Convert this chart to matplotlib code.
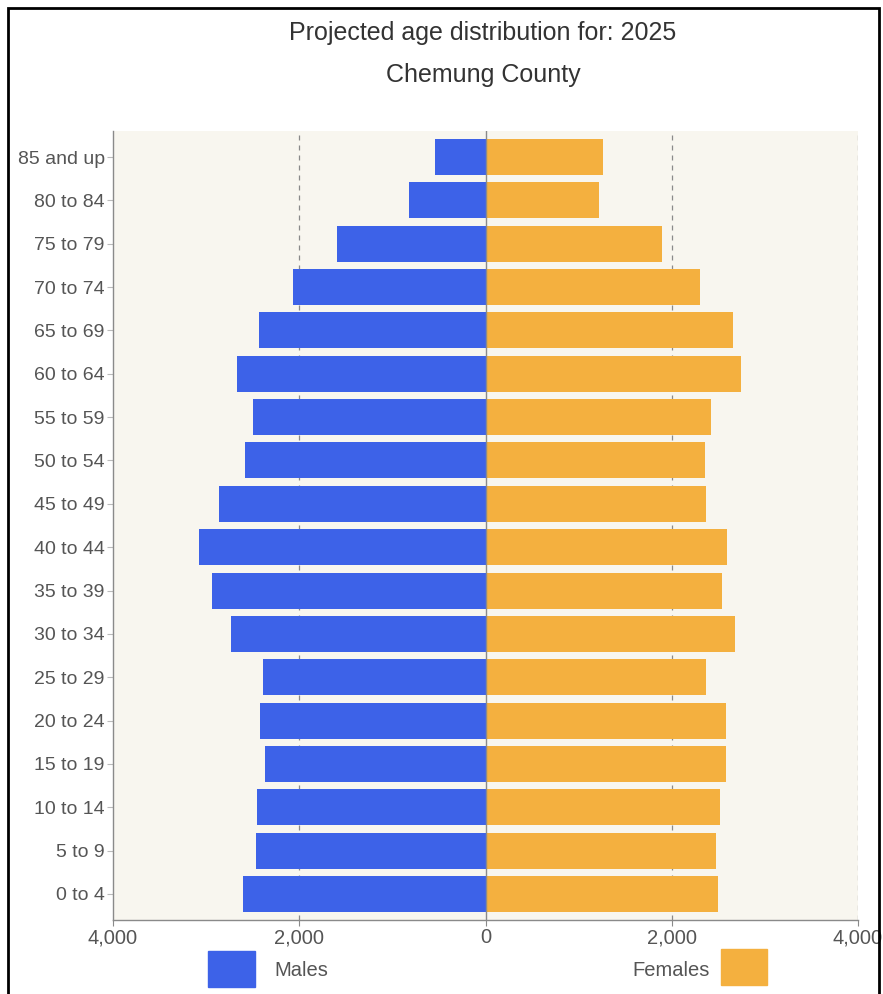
import numpy as np
import matplotlib.pyplot as plt
from matplotlib.patches import Rectangle
from matplotlib.ticker import FuncFormatter

age_groups = ["0 to 4", "5 to 9", "10 to 14", "15 to 19", "20 to 24", "25 to 29",
              "30 to 34", "35 to 39", "40 to 44", "45 to 49", "50 to 54", "55 to 59",
              "60 to 64", "65 to 69", "70 to 74", "75 to 79", "80 to 84", "85 and up"]
males = [2605, 2469, 2451, 2369, 2419, 2386, 2737, 2933, 3076, 2858,
         2583, 2494, 2665, 2430, 2072, 1590, 822, 547]
females = [2497, 2479, 2519, 2587, 2583, 2369, 2680, 2544, 2594, 2369,
           2355, 2426, 2740, 2658, 2304, 1894, 1215, 1257]
x_ticks = [-4000, -2000, 0, 2000, 4000]

BLUE = '#3d62e8'
ORANGE = '#f4b03f'
BG = '#f8f6ef'
GRAY = '#8a8a8a'
TEXT = '#555555'

plt.rcParams['font.family'] = ['Liberation Sans', 'DejaVu Sans']

W, H = 883, 994
fig = plt.figure(figsize=(W / 100, H / 100), dpi=100)
ax = fig.add_axes([113 / W, 1 - 920 / H, (858 - 113) / W, (920 - 131) / H])
ax.set_facecolor(BG)

y = np.arange(len(age_groups))
ax.barh(y, -np.array(males), height=0.83, color=BLUE, zorder=2)
ax.barh(y, females, height=0.83, color=ORANGE, zorder=2)

for xv in (-2000, 2000, 4000):
    ax.axvline(xv, color=GRAY, lw=0.9, ls=(0, (4, 4)), zorder=1)
ax.axvline(0, color=GRAY, lw=1.0, zorder=3)

ax.set_xlim(-4000, 4000)
ax.set_ylim(-0.6, 17.6)
ax.set_xticks(x_ticks)
ax.xaxis.set_major_formatter(FuncFormatter(lambda v, p: f"{abs(int(v)):,}"))
ax.set_yticks(y)
ax.set_yticklabels(age_groups)

for s in ('top', 'right'):
    ax.spines[s].set_visible(False)
for s in ('left', 'bottom'):
    ax.spines[s].set_color(GRAY)
    ax.spines[s].set_linewidth(1.0)

ax.tick_params(axis='y', length=4, width=0.8, color='#bbbbbb', labelsize=14,
               labelcolor=TEXT, pad=2)
ax.tick_params(axis='x', length=4, width=0.8, color=GRAY, labelsize=14.5,
               labelcolor=TEXT, pad=2)

fig.text(483 / W, 1 - 33 / H, "Projected age distribution for: 2025", ha='center',
         va='center', fontsize=18, color='#333333')
fig.text(483 / W, 1 - 75 / H, "Chemung County", ha='center', va='center',
         fontsize=18, color='#333333')

# legend
fig.patches.append(Rectangle((208 / W, 1 - 987 / H), 47 / W, 36 / H, color=BLUE,
                             transform=fig.transFigure))
fig.text(274 / W, 1 - 970 / H, "Males", ha='left', va='center', fontsize=14.5, color=TEXT)
fig.patches.append(Rectangle((721 / W, 1 - 985 / H), 46 / W, 36 / H, color=ORANGE,
                             transform=fig.transFigure))
fig.text(710 / W, 1 - 970 / H, "Females", ha='right', va='center', fontsize=14.5, color=TEXT)

# outer frame
fig.patches.append(Rectangle((8 / W, -0.05), (879 - 8) / W, 1.05 - 8 / H, fill=False,
                             edgecolor='black', lw=2, transform=fig.transFigure))

fig.savefig('out.png', dpi=100)
